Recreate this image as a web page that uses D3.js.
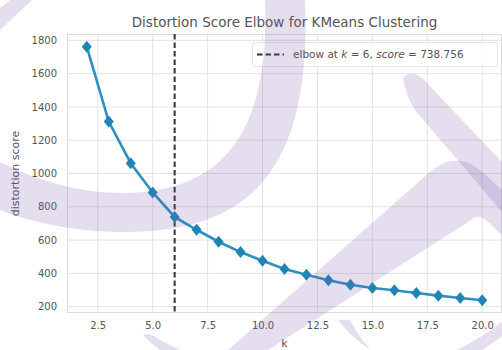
<!DOCTYPE html>
<meta charset="utf-8">
<script src="https://d3js.org/d3.v7.min.js"></script>
<style>
  body { margin: 0; background: #fff; }
  text { font-family: "DejaVu Sans", sans-serif; }
</style>
<div id="chart"></div>
<script>

    // k values and distortion scores
    var ks = [2, 3, 4, 5, 6, 7, 8, 9, 10, 11, 12, 13, 14, 15, 16, 17, 18, 19, 20];
    var scores = [1762, 1312, 1062, 886, 738.756, 662, 590, 528, 476, 426, 392, 358, 332, 312, 298, 282, 266, 252, 238];
    var elbowK = 6;
    var elbowScore = 738.756;
    var xTicks = [2.5, 5.0, 7.5, 10.0, 12.5, 15.0, 17.5, 20.0];
    var yTicks = [200, 400, 600, 800, 1000, 1200, 1400, 1600, 1800];

    var W = 502, H = 350;
    var margin = {top: 34, right: 0, bottom: 37, left: 67};

    var svg = d3.select("#chart")
        .append("svg")
            .attr("width", W)
            .attr("height", H);

    // matplotlib style 5% margins
    var xPad = (d3.max(ks) - d3.min(ks)) * 0.05;
    var yPad = (d3.max(scores) - d3.min(scores)) * 0.05;

    var x = d3.scaleLinear()
        .domain([d3.min(ks) - xPad, d3.max(ks) + xPad])
        .range([margin.left, W - margin.right]);
    var y = d3.scaleLinear()
        .domain([d3.min(scores) - yPad, d3.max(scores) + yPad])
        .range([H - margin.bottom, margin.top]);

    // grid
    var grid = svg.append("g").attr("stroke", "#e3e3e3").attr("stroke-width", 1);
    grid.selectAll(".gx").data(xTicks).enter().append("line")
        .attr("x1", d => x(d)).attr("x2", d => x(d))
        .attr("y1", margin.top).attr("y2", H - margin.bottom);
    grid.selectAll(".gy").data(yTicks).enter().append("line")
        .attr("x1", margin.left).attr("x2", W - margin.right)
        .attr("y1", d => y(d)).attr("y2", d => y(d));

    // frame
    svg.append("rect")
        .attr("x", margin.left + 0.5).attr("y", margin.top + 0.5)
        .attr("width", W - margin.right - margin.left - 1)
        .attr("height", H - margin.bottom - margin.top - 1)
        .attr("fill", "none").attr("stroke", "#dcdcdc");

    // axes (labels only, matplotlib-like)
    var xAxis = svg.append("g")
        .attr("transform", "translate(0," + (H - margin.bottom) + ")")
        .call(d3.axisBottom(x).tickValues(xTicks).tickFormat(d3.format(".1f")).tickSize(0).tickPadding(9));
    var yAxis = svg.append("g")
        .attr("transform", "translate(" + margin.left + ",0)")
        .call(d3.axisLeft(y).tickValues(yTicks).tickFormat(d3.format("d")).tickSize(0).tickPadding(10));
    [xAxis, yAxis].forEach(function (a) {
        a.select(".domain").remove();
        a.selectAll("text")
            .attr("fill", "#555")
            .style("font-size", "10px")
            .style("font-family", "DejaVu Sans, sans-serif");
    });

    // elbow line
    svg.append("line")
        .attr("x1", x(elbowK)).attr("x2", x(elbowK))
        .attr("y1", margin.top).attr("y2", H - margin.bottom)
        .attr("stroke", "#333").attr("stroke-width", 2)
        .attr("stroke-dasharray", "5.5,3");

    // the curve
    var pts = ks.map((k, i) => [k, scores[i]]);
    svg.append("path")
        .datum(pts)
        .attr("fill", "none")
        .attr("stroke", "#2e90c0")
        .attr("stroke-width", 2.6)
        .attr("d", d3.line().x(d => x(d[0])).y(d => y(d[1])));

    svg.selectAll(".mk")
        .data(pts)
        .enter()
        .append("path")
        .attr("transform", d => "translate(" + x(d[0]) + "," + y(d[1]) + ")")
        .attr("d", "M0,-6L5,0L0,6L-5,0Z")
        .attr("fill", "#2184b6");

    // titles
    svg.append("text")
        .attr("x", (margin.left + W - margin.right) / 2)
        .attr("y", 27)
        .attr("text-anchor", "middle")
        .attr("fill", "#555")
        .style("font-size", "13.5px")
        .text("Distortion Score Elbow for KMeans Clustering");

    svg.append("text")
        .attr("x", (margin.left + W - margin.right) / 2)
        .attr("y", 347)
        .attr("text-anchor", "middle")
        .attr("fill", "#555")
        .style("font-size", "11px")
        .text("k");

    svg.append("text")
        .attr("transform", "translate(19," + ((margin.top + H - margin.bottom) / 2) + ") rotate(-90)")
        .attr("text-anchor", "middle")
        .attr("fill", "#555")
        .style("font-size", "11px")
        .text("distortion score");

    // legend
    var lg = svg.append("g");
    lg.append("rect")
        .attr("x", 252.5).attr("y", 42.5).attr("width", 245).attr("height", 24)
        .attr("rx", 2)
        .attr("fill", "#fff").attr("fill-opacity", 0.8)
        .attr("stroke", "#e6e6e6");
    lg.append("line")
        .attr("x1", 257).attr("x2", 284).attr("y1", 54.5).attr("y2", 54.5)
        .attr("stroke", "#333").attr("stroke-width", 2)
        .attr("stroke-dasharray", "5.5,3");
    var lt = lg.append("text")
        .attr("x", 293).attr("y", 58)
        .attr("fill", "#555")
        .style("font-size", "10.5px");
    lt.append("tspan").text("elbow at ");
    lt.append("tspan").style("font-style", "italic").text("k");
    lt.append("tspan").text(" = " + elbowK + ", ");
    lt.append("tspan").style("font-style", "italic").text("score");
    lt.append("tspan").text(" = " + d3.format(".3f")(elbowScore));

    // watermark overlay
    var marks = [
        "M305,0 C312,170 250,232 125,232 C75,232 30,222 0,210 L0,162 C35,180 80,193 122,193 C225,193 270,130 265,0 Z",
        "M0,8 L10,0 L32,0 L0,30 Z",
        "M228,350 L430,172 Q455,150 480,170 L502,190 L502,235 L488,222 Q478,212 468,222 L268,350 Z",
        "M403,77 Q414,70 424,80 L502,162 L502,212 L415,110 Q405,95 403,77 Z",
        "M338,320 Q400,400 502,322 L502,336 Q400,415 350,320 Z",
        "M143,335 Q150,332 160,340 L180,350 L160,350 Q150,343 143,335 Z"
    ];
    svg.append("g")
        .attr("fill", "rgb(120,90,170)")
        .attr("fill-opacity", 0.2)
        .selectAll("path")
        .data(marks)
        .enter()
        .append("path")
        .attr("d", d => d);

</script>
